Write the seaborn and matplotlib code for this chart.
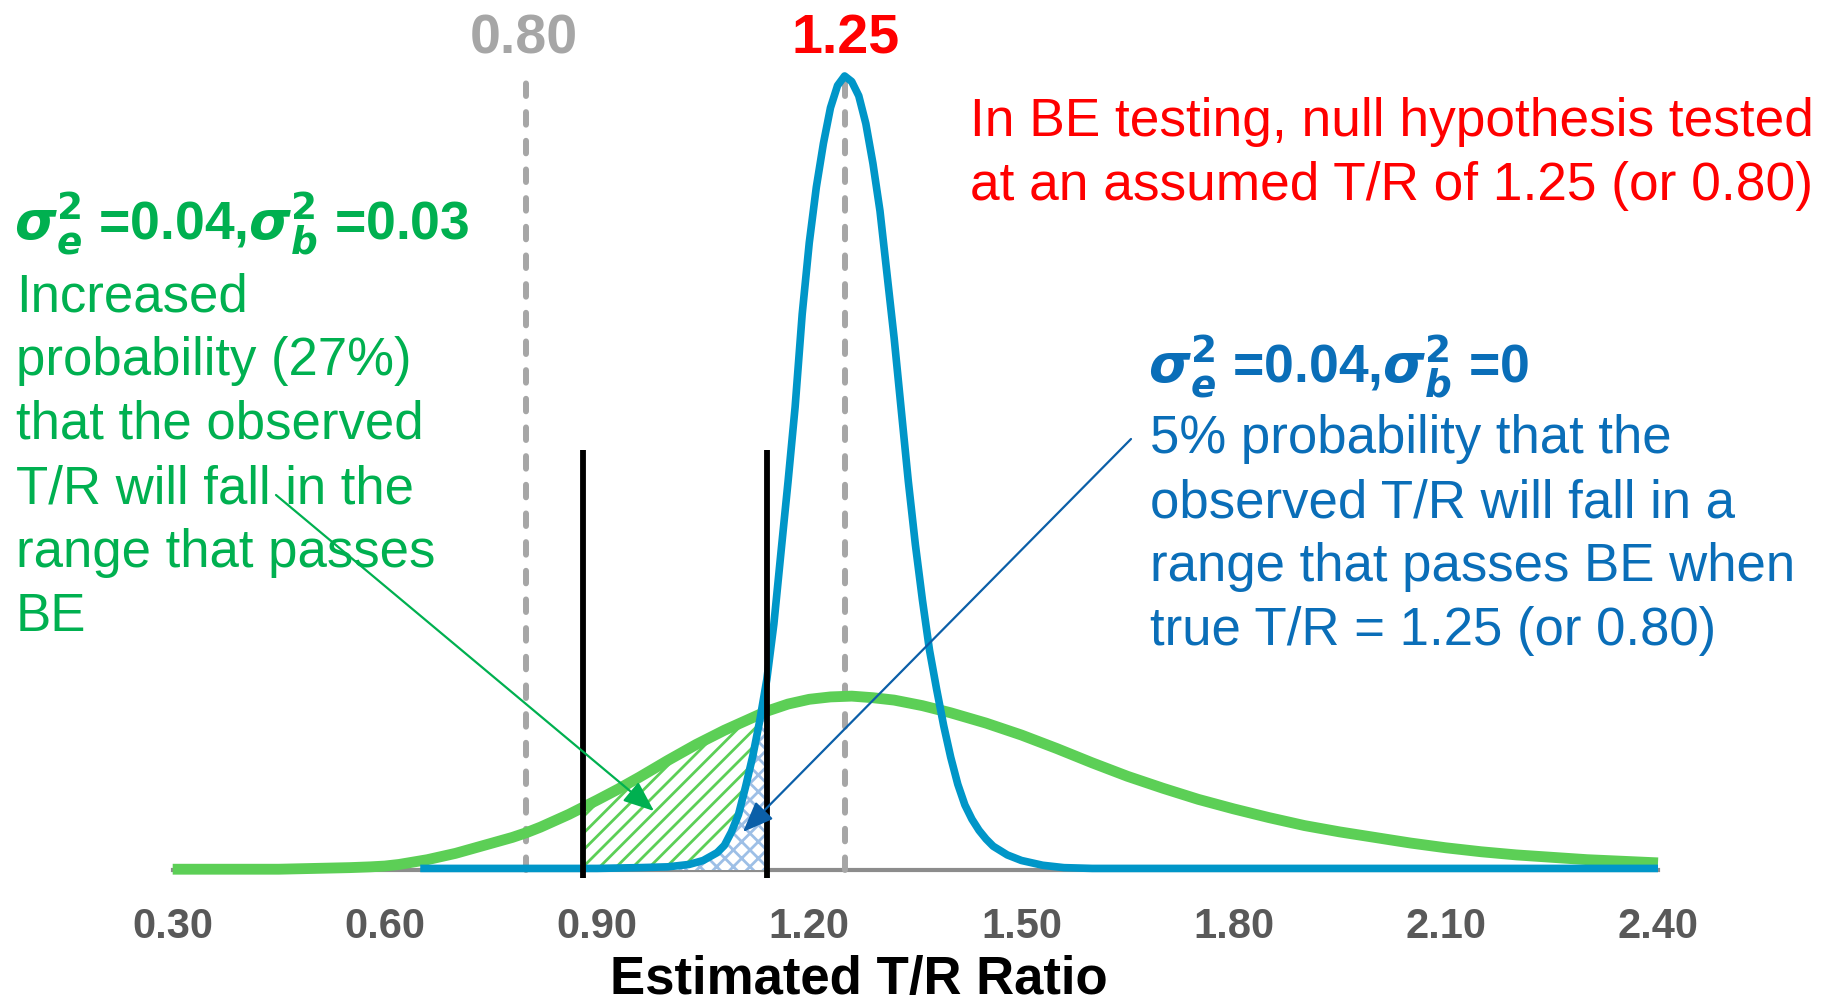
import numpy as np
import pandas as pd
import matplotlib
matplotlib.use("Agg")
import matplotlib.pyplot as plt
import seaborn as sns

# ---------------- data ----------------
x_green = [0.30, 0.45, 0.50, 0.55, 0.58, 0.60, 0.62, 0.64, 0.66, 0.68, 0.70, 0.72, 0.74,
           0.76, 0.78, 0.80, 0.82, 0.84, 0.86, 0.88, 0.90, 0.93, 0.96, 1.00, 1.04, 1.08,
           1.11, 1.14, 1.17, 1.20, 1.23, 1.26, 1.29, 1.32, 1.36, 1.40, 1.45, 1.50, 1.55,
           1.60, 1.65, 1.70, 1.75, 1.80, 1.85, 1.90, 1.95, 2.00, 2.05, 2.10, 2.15, 2.20,
           2.25, 2.30, 2.35, 2.40]
y_green = [0.001, 0.001, 0.002, 0.003, 0.004, 0.005, 0.007, 0.010, 0.013, 0.017, 0.021, 0.026, 0.031,
           0.036, 0.041, 0.047, 0.054, 0.062, 0.070, 0.079, 0.088, 0.102, 0.117, 0.138, 0.158, 0.176,
           0.188, 0.200, 0.209, 0.215, 0.218, 0.219, 0.217, 0.214, 0.207, 0.198, 0.185, 0.170, 0.153,
           0.135, 0.118, 0.103, 0.089, 0.077, 0.066, 0.056, 0.048, 0.041, 0.034, 0.028, 0.023, 0.019,
           0.016, 0.013, 0.011, 0.009]

x_blue = [0.65, 0.90, 0.96, 1.00, 1.03, 1.05, 1.07, 1.08, 1.09, 1.10, 1.11, 1.12, 1.13, 1.14,
          1.15, 1.16, 1.17, 1.18, 1.19, 1.20, 1.21, 1.22, 1.23, 1.24, 1.25, 1.26, 1.27, 1.28,
          1.29, 1.30, 1.31, 1.32, 1.33, 1.34, 1.35, 1.36, 1.37, 1.38, 1.39, 1.40, 1.41, 1.42,
          1.43, 1.44, 1.45, 1.46, 1.48, 1.50, 1.53, 1.56, 1.60, 2.40]
y_blue = [0.002, 0.002, 0.003, 0.004, 0.007, 0.012, 0.022, 0.031, 0.048, 0.070, 0.105, 0.143, 0.188, 0.240,
          0.310, 0.400, 0.489, 0.583, 0.700, 0.790, 0.860, 0.915, 0.960, 0.988, 1.0, 0.993, 0.975, 0.940,
          0.890, 0.830, 0.750, 0.670, 0.580, 0.490, 0.410, 0.340, 0.277, 0.228, 0.182, 0.142, 0.108, 0.082,
          0.064, 0.050, 0.039, 0.030, 0.019, 0.012, 0.006, 0.003, 0.002, 0.002]

major_ticks = [0.30, 0.60, 0.90, 1.20, 1.50, 1.80, 2.10, 2.40]
major_labels = ["0.30", "0.60", "0.90", "1.20", "1.50", "1.80", "2.10", "2.40"]
minor_ticks = [0.40, 0.50, 0.70, 0.80, 1.00, 1.10, 1.30, 1.40, 1.60, 1.70, 1.90, 2.00, 2.20, 2.30]
limits = [0.80, 1.25]
limit_labels = ["0.80", "1.25"]
pass_range = [0.88, 1.14]

green_lines = ["Increased", "probability (27%)", "that the observed",
               "T/R will fall in the", "range that passes", "BE"]
blue_lines = ["5% probability that the", "observed T/R will fall in a",
              "range that passes BE when", "true T/R = 1.25 (or 0.80)"]
red_lines = ["In BE testing, null hypothesis tested", "at an assumed T/R of 1.25 (or 0.80)"]

# ---------------- style ----------------
sns.set_theme(style="white")
plt.rcParams["font.family"] = ["Liberation Sans", "DejaVu Sans"]
plt.rcParams["hatch.linewidth"] = 2.0
narrow = ["Liberation Sans Narrow", "Liberation Sans", "DejaVu Sans"]

GREEN_LINE = "#5ccf56"
GREEN_TXT = "#00b050"
BLUE_LINE = "#0096c8"
BLUE_TXT = "#0a6eb8"
RED = "#ff0000"
GRAY = "#a6a6a6"
AXGRAY = "#8c8c8c"

W, H = 1825, 1002
fig = plt.figure(figsize=(W / 100, H / 100), dpi=100)
fig.patch.set_facecolor("white")
ax = fig.add_axes([172.7 / W, 0.0921, (1658 - 172.7) / W, 0.9079])
ax.set_xlim(0.30, 2.40)
ax.set_ylim(-0.05, 1.0957)
ax.patch.set_alpha(0)

df_g = pd.DataFrame({"x": x_green, "y": y_green})
df_b = pd.DataFrame({"x": x_blue, "y": y_blue})

# hatched areas
xg = np.array(x_green); yg = np.array(y_green)
xb = np.array(x_blue); yb = np.array(y_blue)
mg = (xg >= pass_range[0]) & (xg <= pass_range[1])
ax.fill_between(xg[mg], 0, yg[mg], facecolor="none", edgecolor=GREEN_LINE,
                hatch="//", linewidth=0, zorder=2)
mb = (xb >= 1.0) & (xb <= pass_range[1])
ax.fill_between(xb[mb], 0, yb[mb], facecolor="white", edgecolor="#9dbfe6",
                hatch="xx", linewidth=0, zorder=2.5)

# dashed reference lines
for v in limits:
    ax.plot([v, v], [0, 1.0], color=GRAY, linewidth=4.3, linestyle=(0, (2.1, 2.7)),
            dash_capstyle="round", zorder=1)

# curves
sns.lineplot(data=df_g, x="x", y="y", ax=ax, color=GREEN_LINE, linewidth=7.8,
             zorder=3, estimator=None, sort=False)
sns.lineplot(data=df_b, x="x", y="y", ax=ax, color=BLUE_LINE, linewidth=5.5,
             zorder=4, estimator=None, sort=False)
for l in ax.lines[2:]:
    l.set_solid_capstyle("butt")
    l.set_solid_joinstyle("round")
    l.set_clip_on(False)

# black pass-range lines
for v in pass_range:
    ax.plot([v, v], [-0.010, 0.529], color="black", linewidth=4.2, zorder=5,
            solid_capstyle="butt", clip_on=False)

# axes styling
for s in ["left", "right", "top"]:
    ax.spines[s].set_visible(False)
ax.spines["bottom"].set_position(("data", 0))
ax.spines["bottom"].set_color(AXGRAY)
ax.spines["bottom"].set_linewidth(3.0)
ax.spines["bottom"].set_zorder(0.5)
ax.set_yticks([])
ax.set_xticks(major_ticks)
ax.set_xticklabels(major_labels)
ax.set_xticks(minor_ticks, minor=True)
ax.tick_params(axis="x", which="major", direction="out", length=9.5, width=2.4,
               color=AXGRAY, pad=17, labelsize=30, labelcolor="#595959")
ax.tick_params(axis="x", which="minor", direction="out", length=7, width=2.4,
               color=AXGRAY)
for t in ax.get_xticklabels():
    t.set_fontfamily(narrow)
    t.set_fontweight("bold")
ax.set_xlabel("")
ax.set_ylabel("")

def ft(x, y, s, **kw):
    fig.text(x / W, 1 - y / H, s, **kw)

# x label
ft(859, 994, "Estimated T/R Ratio", ha="center", va="baseline", fontsize=38,
   fontweight="bold", color="black")

# top labels
ft(524, 54, limit_labels[0], ha="center", va="baseline", fontsize=40,
   fontweight="bold", color=GRAY, family=narrow)
ft(846, 54, limit_labels[1], ha="center", va="baseline", fontsize=40,
   fontweight="bold", color=RED, family=narrow)

# red text
for i, s in enumerate(red_lines):
    ft(970, 136 + 64 * i, s, ha="left", va="baseline", fontsize=38.3, color=RED)

# green block
ft(14, 239, r"$\boldsymbol{\sigma}_{\boldsymbol{e}}^{\mathbf{2}}$ =0.04,"
   r"$\boldsymbol{\sigma}_{\boldsymbol{b}}^{\mathbf{2}}$ =0.03",
   ha="left", va="baseline", fontsize=38.5, fontweight="bold", color=GREEN_TXT,
   family=narrow)
for i, s in enumerate(green_lines):
    ft(16, 311 + 64 * i, s, ha="left", va="baseline", fontsize=38, color=GREEN_TXT)

# blue block
ft(1148, 382, r"$\boldsymbol{\sigma}_{\boldsymbol{e}}^{\mathbf{2}}$ =0.04,"
   r"$\boldsymbol{\sigma}_{\boldsymbol{b}}^{\mathbf{2}}$ =0",
   ha="left", va="baseline", fontsize=38.5, fontweight="bold", color=BLUE_TXT,
   family=narrow)
for i, s in enumerate(blue_lines):
    ft(1150, 453 + 64 * i, s, ha="left", va="baseline", fontsize=38, color=BLUE_TXT)

# arrows
ax.annotate("", xy=(654, H - 811), xytext=(276, H - 495),
            xycoords="figure pixels", textcoords="figure pixels",
            arrowprops=dict(arrowstyle="-|>,head_length=0.95,head_width=0.38",
                            color=GREEN_TXT, lw=1.6, mutation_scale=20,
                            shrinkA=0, shrinkB=0), zorder=6)
ax.annotate("", xy=(743, H - 832), xytext=(1131, H - 439),
            xycoords="figure pixels", textcoords="figure pixels",
            arrowprops=dict(arrowstyle="-|>,head_length=0.95,head_width=0.38",
                            color="#0b5fa8", lw=1.6, mutation_scale=20,
                            shrinkA=0, shrinkB=0), zorder=6)

fig.savefig("out.png", dpi=100, facecolor="white")
